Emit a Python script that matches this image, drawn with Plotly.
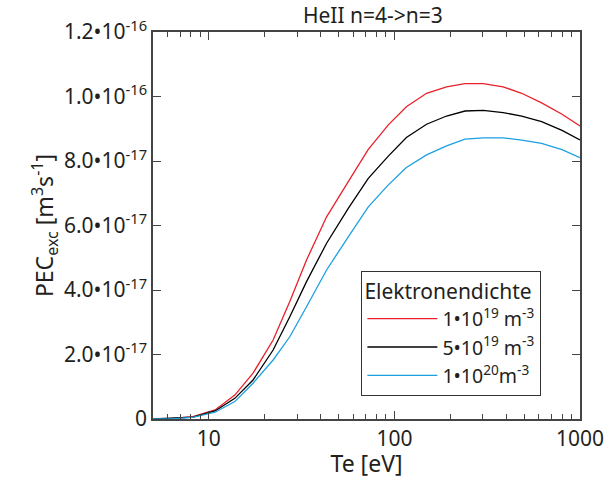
import plotly.graph_objects as go
import numpy as np

te = [5, 6.4, 8.2, 10.8, 13.8, 17.3, 22.2, 27.3, 33.6, 43.1, 56.4, 72.3, 92.7,
      116, 149, 191, 240, 301, 385, 485, 621, 800, 1000]
red = [0.0, 0.002, 0.007, 0.028, 0.074, 0.142, 0.245, 0.364, 0.493, 0.627, 0.736,
       0.836, 0.912, 0.968, 1.010, 1.030, 1.040, 1.040, 1.030, 1.010, 0.980, 0.945, 0.9085]
black = [0.0, 0.002, 0.006, 0.025, 0.064, 0.121, 0.214, 0.317, 0.426, 0.545, 0.653,
         0.746, 0.815, 0.873, 0.914, 0.9395, 0.955, 0.957, 0.950, 0.9395, 0.922, 0.895, 0.865]
blue = [0.0, 0.001, 0.005, 0.021, 0.054, 0.111, 0.183, 0.255, 0.348, 0.462, 0.565,
        0.658, 0.726, 0.780, 0.819, 0.847, 0.868, 0.872, 0.872, 0.865, 0.855, 0.835, 0.810]
scale = 1e-16

names = ["1\u202210<sup>19</sup> m<sup>-3</sup>",
         "5\u202210<sup>19</sup> m<sup>-3</sup>",
         "1\u202210<sup>20</sup>m<sup>-3</sup>"]
colors = ["#e8202a", "#000000", "#1ca0e0"]

ytickvals = [0, 2e-17, 4e-17, 6e-17, 8e-17, 1e-16, 1.2e-16]
yticktext = ["0", "2.0\u202210<sup>-17</sup>", "4.0\u202210<sup>-17</sup>",
             "6.0\u202210<sup>-17</sup>", "8.0\u202210<sup>-17</sup>",
             "1.0\u202210<sup>-16</sup>", "1.2\u202210<sup>-16</sup>"]
xtickvals = [10, 100, 1000]
xticktext = ["10", "100", "1000"]
minor_x = [6, 7, 8, 9, 20, 30, 40, 50, 60, 70, 80, 90, 200, 300, 400, 500, 600, 700, 800, 900]

fig = go.Figure()
for ys, nm, c in zip([red, black, blue], names, colors):
    fig.add_trace(go.Scatter(x=te, y=[v * scale for v in ys], mode="lines", name=nm,
                             line=dict(color=c, width=1.3)))

font = "Noto Sans"
fig.update_layout(
    width=605, height=479,
    margin=dict(l=153, r=25, t=32, b=60),
    paper_bgcolor="white", plot_bgcolor="white",
    font=dict(family=font, size=21, color="#231f20"),
    title=dict(text="HeII n=4->n=3", x=0.515, xanchor="center", xref="paper",
               y=0.967, yanchor="middle", font=dict(size=21)),
    showlegend=True,
    legend=dict(x=0.488, y=0.382, xanchor="left", yanchor="top",
                bordercolor="#333", borderwidth=1, bgcolor="white",
                title=dict(text="Elektronendichte", font=dict(size=21)),
                font=dict(size=19.5), tracegroupgap=0, itemwidth=70),
)
fig.update_xaxes(type="log", range=[np.log10(5), 3], tickvals=xtickvals, ticktext=xticktext,
                 ticks="inside", ticklen=8, tickcolor="#444", showline=True, linecolor="#444",
                 linewidth=1.5, mirror="ticks", showgrid=False, zeroline=False, automargin=False,
                 minor=dict(ticks="inside", ticklen=5, tickvals=minor_x, tickcolor="#444", showgrid=False),
                 title=dict(text="Te [eV]", standoff=3, font=dict(size=23)), tickfont=dict(size=21))
fig.update_yaxes(range=[0, 1.2e-16], tickvals=ytickvals, ticktext=yticktext,
                 ticks="inside", ticklen=8, tickcolor="#444", showline=True, linecolor="#444",
                 linewidth=1.5, mirror="ticks", showgrid=False, zeroline=False,
                 title=dict(text="PEC<sub>exc</sub> [m<sup>3</sup>s<sup>-1</sup>]", standoff=4,
                            font=dict(size=23)),
                 tickfont=dict(size=21))
fig.write_html("out.html")
